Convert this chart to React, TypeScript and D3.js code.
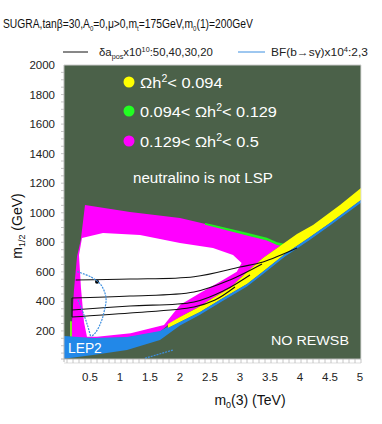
import React, { useEffect, useRef } from 'react';
import * as d3 from 'd3';

// axis ticks
const m0Ticks = [0.5, 1, 1.5, 2, 2.5, 3, 3.5, 4, 4.5, 5];
const m12Ticks = [200, 400, 600, 800, 1000, 1200, 1400, 1600, 1800, 2000];

// region boundaries, [m0 (TeV), m1/2 (GeV)]
const magentaRegion = [
  [0.4, 1052], [1.15, 1005], [1.983, 965], [2.533, 912], [3.1, 850], [3.433, 815], [3.6, 787], [3.72, 772],
  [3.65, 775], [3.367, 694], [3.1, 599], [2.817, 491], [2.533, 423], [2.267, 355], [1.983, 294],
  [1.783, 240], [1.65, 195], [1.1, 155], [0.533, 148], [0.167, 150],
  [0.183, 251], [0.217, 481], [0.267, 704], [0.33, 815],
];
const whiteRegion = [
  [0.35, 829], [0.7, 863], [1.317, 849], [1.983, 795], [2.533, 761], [2.867, 714], [3.01, 660],
  [2.93, 601], [2.65, 533], [2.317, 457], [1.983, 375], [1.717, 240], [1.162, 184], [0.6, 161],
  [0.433, 161], [0.383, 260], [0.333, 490], [0.3, 714],
];
const greenRegion = [
  [2.4, 931], [2.533, 918], [3.1, 864], [3.433, 830], [3.6, 800], [3.78, 785],
  [3.75, 768], [3.6, 782], [3.433, 812], [3.1, 846], [2.533, 905], [2.4, 918],
];
const greenLeft = [[0.15, 160], [0.15, 265], [0.183, 265], [0.183, 160]];
const yellowUpper = [
  [1.783, 247], [1.983, 294], [2.267, 355], [2.533, 423], [2.817, 491], [3.1, 599], [3.367, 694],
  [3.65, 775], [3.933, 856], [4.2, 917], [4.65, 1052], [5.0, 1167],
];
const yellowLower = [
  [1.783, 220], [1.983, 260], [2.317, 328], [2.7, 423], [3.1, 518], [3.4, 612], [3.733, 721],
  [4.15, 836], [4.483, 931], [5.0, 1086],
];
const blueLower = [
  [0.05, 12], [0.533, 37], [1.1, 71], [1.65, 139], [1.983, 236], [2.317, 310], [2.7, 405],
  [3.1, 500], [3.4, 595], [3.733, 704], [4.15, 818], [4.483, 913], [5.0, 1068],
];
const lep2Top = [[1.783, 228], [1.65, 199], [1.1, 159], [0.533, 152], [0.05, 166]];

// delta a_mu contours (x10^10)
const delta20 = [[0.245, 545], [1.15, 551], [2.217, 567], [2.983, 633], [3.367, 667], [3.933, 761]];
const delta30 = [[0.183, 423], [1.15, 436], [2.217, 463], [2.817, 545], [3.35, 653]];
const delta40 = [[0.183, 342], [1.15, 369], [2.217, 396], [2.733, 477], [3.15, 579]];
const delta50 = [[0.183, 294], [1.15, 321], [2.217, 362], [2.567, 409], [2.9, 497]];
const deltaEdge = [[0.183, 294], [0.183, 423]];

// BF(b->s gamma) contours
const bfOuter = [[0.27, 601], [0.5, 565], [0.667, 511], [0.75, 423], [0.717, 328], [0.667, 260], [0.583, 193], [0.5, 159]];
const bfInner = [[0.283, 409], [0.383, 308], [0.45, 227], [0.495, 161]];
const bfLow = [[1.4, 15], [1.87, 71]];

const legendItems = [
  { color: '#ffff00', parts: ['', '\u03a9h', '2', '< 0.094'] },
  { color: '#22ff22', parts: ['0.094< ', '\u03a9h', '2', '< 0.129'] },
  { color: '#ff00ff', parts: ['0.129< ', '\u03a9h', '2', '< 0.5'] },
];

const W = 382;
const H = 424;
const font = '"Liberation Sans", Arial, Helvetica, sans-serif';

// squeeze a text horizontally to a target width
function fitWidth(sel: any, x0: number, y0: number, width: number) {
  const w = sel.node().getBBox().width;
  sel.attr('transform', `translate(${x0},${y0}) scale(${width / w},1)`);
}

export default function App() {
  const ref = useRef<SVGSVGElement>(null);

  useEffect(() => {
    const svg = d3.select(ref.current);
    svg.selectAll('*').remove();

    const x = d3.scaleLinear().domain([0.05, 5]).range([64, 361]);
    const y = d3.scaleLinear().domain([10, 2000]).range([359, 65]);

    const area = d3.line<number[]>().x(d => x(d[0])).y(d => y(d[1])).curve(d3.curveLinearClosed);
    const curve = d3.line<number[]>().x(d => x(d[0])).y(d => y(d[1])).curve(d3.curveCatmullRom);

    svg.append('defs').append('clipPath').attr('id', 'plotclip')
      .append('rect')
      .attr('x', x(0.05)).attr('y', y(2000))
      .attr('width', x(5) - x(0.05)).attr('height', y(10) - y(2000));

    svg.append('rect')
      .attr('x', x(0.05)).attr('y', y(2000))
      .attr('width', x(5) - x(0.05)).attr('height', y(10) - y(2000))
      .attr('fill', '#4b6149');

    const g = svg.append('g').attr('clip-path', 'url(#plotclip)');

    g.append('path').attr('d', area(magentaRegion)).attr('fill', '#ff00ff');
    g.append('path').attr('d', area(whiteRegion)).attr('fill', '#ffffff');
    g.append('path').attr('d', area(greenRegion)).attr('fill', '#22ee22');
    g.append('path').attr('d', area(greenLeft)).attr('fill', '#77ee22');
    g.append('path').attr('d', area(yellowUpper.concat(yellowLower.slice().reverse()))).attr('fill', '#ffff00');
    g.append('path').attr('d', area(blueLower.concat(yellowLower.slice().reverse(), lep2Top))).attr('fill', '#2288e8');

    [delta20, delta30, delta40, delta50, deltaEdge].forEach(l => {
      g.append('path').attr('d', curve(l)).attr('fill', 'none')
        .attr('stroke', '#111').attr('stroke-width', 1.1);
    });
    g.append('circle').attr('cx', x(0.6)).attr('cy', y(533)).attr('r', 2).attr('fill', '#000');

    [bfOuter, bfInner, bfLow].forEach(l => {
      g.append('path').attr('d', curve(l)).attr('fill', 'none')
        .attr('stroke', '#3d8fe0').attr('stroke-width', 1.2).attr('stroke-dasharray', '2,1');
    });

    // axis frame + minor ticks
    const axisColor = '#b8b8b8';
    svg.append('line').attr('x1', x(0.05)).attr('x2', x(0.05)).attr('y1', y(2000)).attr('y2', y(10) + 3)
      .attr('stroke', axisColor);
    svg.append('line').attr('x1', x(0.05) - 3).attr('x2', x(5)).attr('y1', y(10)).attr('y2', y(10))
      .attr('stroke', axisColor);
    svg.append('line').attr('x1', x(0.05)).attr('x2', x(5)).attr('y1', y(10) + 4).attr('y2', y(10) + 4)
      .attr('stroke', '#dddddd');
    svg.append('line').attr('x1', x(5)).attr('x2', x(5)).attr('y1', y(2000)).attr('y2', y(10))
      .attr('stroke', '#dddddd');
    svg.append('line').attr('x1', x(0.05)).attr('x2', x(5)).attr('y1', y(2000)).attr('y2', y(2000))
      .attr('stroke', '#cccccc');

    const yMinor = d3.range(50, 2000, 50);
    svg.append('g').selectAll('line').data(yMinor).join('line')
      .attr('x1', x(0.05) - 3).attr('x2', x(0.05))
      .attr('y1', d => y(d)).attr('y2', d => y(d))
      .attr('stroke', axisColor).attr('stroke-width', 0.8);
    const xMinor = d3.range(0.1, 5.01, 0.1);
    svg.append('g').selectAll('line').data(xMinor).join('line')
      .attr('x1', d => x(d)).attr('x2', d => x(d))
      .attr('y1', y(10)).attr('y2', y(10) + 4)
      .attr('stroke', axisColor).attr('stroke-width', 0.8);

    svg.append('g').selectAll('text').data(m12Ticks).join('text')
      .attr('x', 55).attr('y', d => y(d) + 4)
      .attr('text-anchor', 'end').attr('font-family', font).attr('font-size', 11.5)
      .attr('fill', '#222').text(d => d);
    svg.append('g').selectAll('text').data(m0Ticks).join('text')
      .attr('x', d => x(d) - 1).attr('y', 381)
      .attr('text-anchor', 'middle').attr('font-family', font).attr('font-size', 11.5)
      .attr('fill', '#222').text(d => d);

    // axis titles
    const xt = svg.append('text').attr('x', 250).attr('y', 405).attr('text-anchor', 'middle')
      .attr('font-family', font).attr('font-size', 14).attr('fill', '#111');
    xt.append('tspan').text('m');
    xt.append('tspan').attr('dy', 3).attr('font-size', 9).text('0');
    xt.append('tspan').attr('dy', -3).text('(3) (TeV)');

    const yt = svg.append('text').attr('transform', 'translate(22,226) rotate(-90)')
      .attr('text-anchor', 'middle').attr('font-family', font).attr('font-size', 14).attr('fill', '#111');
    yt.append('tspan').text('m');
    yt.append('tspan').attr('dy', 3).attr('font-size', 9).text('1/2');
    yt.append('tspan').attr('dy', -3).text(' (GeV)');

    // title
    const tt = svg.append('text')
      .attr('font-family', font).attr('font-size', 13.5).attr('fill', '#111');
    tt.append('tspan').text('SUGRA,tan\u03b2=30,A');
    tt.append('tspan').attr('dy', 3).attr('font-size', 8).text('0');
    tt.append('tspan').attr('dy', -3).text('=0,\u03bc>0,m');
    tt.append('tspan').attr('dy', 3).attr('font-size', 8).text('t');
    tt.append('tspan').attr('dy', -3).text('=175GeV,m');
    tt.append('tspan').attr('dy', 3).attr('font-size', 8).text('0');
    tt.append('tspan').attr('dy', -3).text('(1)=200GeV');
    fitWidth(tt, 3, 28, 250);

    // top legend
    svg.append('line').attr('x1', 63).attr('x2', 88).attr('y1', 52).attr('y2', 52)
      .attr('stroke', '#111').attr('stroke-width', 1);
    const l1 = svg.append('text')
      .attr('font-family', font).attr('font-size', 11).attr('fill', '#222');
    l1.append('tspan').text('\u03b4a');
    l1.append('tspan').attr('dy', 3).attr('font-size', 7).text('pos');
    l1.append('tspan').attr('dy', -3).text('x10');
    l1.append('tspan').attr('dy', -4).attr('font-size', 7).text('10');
    l1.append('tspan').attr('dy', 4).text(':50,40,30,20');
    fitWidth(l1, 99, 56, 114);
    svg.append('line').attr('x1', 238).attr('x2', 265).attr('y1', 52).attr('y2', 52)
      .attr('stroke', '#3d8fe0').attr('stroke-width', 1);
    const l2 = svg.append('text')
      .attr('font-family', font).attr('font-size', 11).attr('fill', '#222');
    l2.append('tspan').text('BF(b\u2192s\u03b3)x10');
    l2.append('tspan').attr('dy', -4).attr('font-size', 7).text('4');
    l2.append('tspan').attr('dy', 4).text(':2,3');
    fitWidth(l2, 271, 56, 97);

    // in-plot legend
    const legendWidths = [83, 137, 119];
    legendItems.forEach((item, i) => {
      const cy = [82, 111, 141][i];
      svg.append('circle').attr('cx', 129).attr('cy', cy).attr('r', 5.5).attr('fill', item.color);
      const t = svg.append('text')
        .attr('font-family', font).attr('font-size', 15.5).attr('fill', '#ffffff');
      t.append('tspan').text(item.parts[0] + item.parts[1]);
      t.append('tspan').attr('dy', -6).attr('font-size', 10).text(item.parts[2]);
      t.append('tspan').attr('dy', 6).text(item.parts[3]);
      fitWidth(t, 140, cy + 5.5, legendWidths[i]);
    });

    const nl = svg.append('text')
      .attr('font-family', font).attr('font-size', 14.5).attr('fill', '#ffffff')
      .text('neutralino is not  LSP');
    fitWidth(nl, 133, 183, 140);
    const nr = svg.append('text')
      .attr('font-family', font).attr('font-size', 13.5).attr('fill', '#ffffff')
      .text('NO REWSB');
    fitWidth(nr, 271, 345, 78);
    const lp = svg.append('text')
      .attr('font-family', font).attr('font-size', 14).attr('fill', '#ffffff')
      .text('LEP2');
    fitWidth(lp, 68, 353, 34);
  }, []);

  return (
    <svg ref={ref} width={W} height={H}
      style={{ position: 'absolute', left: 0, top: 0, background: '#ffffff' }} />
  );
}
